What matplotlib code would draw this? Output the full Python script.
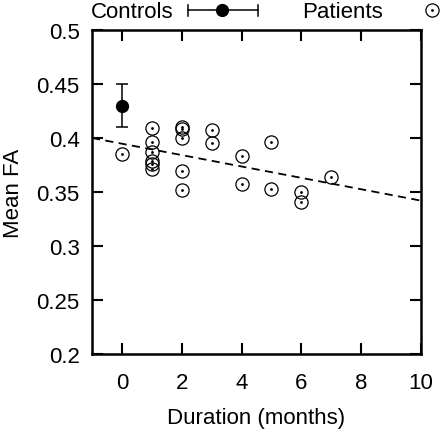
import numpy as np
import matplotlib
matplotlib.use('Agg')
import matplotlib.pyplot as plt
from matplotlib.lines import Line2D

plt.rcParams['font.family'] = ['Liberation Sans', 'DejaVu Sans']

# controls: mean and error
ctrl_x = [0]
ctrl_y = [0.43]
ctrl_err = [0.02]

# patients: duration (months) and mean FA
pat_x = [0, 1, 1, 1, 1, 1, 1, 2, 2, 2, 2, 2, 3, 3, 4, 4, 5, 5, 6, 6, 7]
pat_y = [0.385, 0.409, 0.396, 0.387, 0.379, 0.376, 0.371,
         0.410, 0.408, 0.400, 0.369, 0.352,
         0.407, 0.395, 0.383, 0.357, 0.396, 0.353, 0.350, 0.341, 0.364]

# regression line end points
fit_x = [-1, 10]
fit_y = [0.400, 0.342]

W, H = 440, 431
fig = plt.figure(figsize=(W / 100, H / 100), dpi=100)
ax = fig.add_axes([92 / W, 1 - 355 / H, (421 - 92) / W, (355 - 31) / H])

ax.plot(fit_x, fit_y, color='black', lw=1.3, ls=(0, (4.5, 3)))
ax.errorbar(ctrl_x, ctrl_y, yerr=ctrl_err, fmt='o', color='black', ms=8.5,
            capsize=4.3, elinewidth=1.1, capthick=1.1)
ax.plot(pat_x, pat_y, 'o', mfc='none', mec='black', ms=9.5, mew=0.9)
ax.plot(pat_x, pat_y, '.', color='black', ms=2)

ax.set_xlim(-1, 10)
ax.set_ylim(0.2, 0.5)
ax.set_xticks([0, 2, 4, 6, 8, 10])
ax.set_yticks([0.2, 0.25, 0.3, 0.35, 0.4, 0.45, 0.5])
ax.set_yticklabels(['0.2', '0.25', '0.3', '0.35', '0.4', '0.45', '0.5'])
ax.tick_params(direction='in', length=8, width=1.5, labelsize=16,
               top=True, right=True, pad=9)
ax.tick_params(axis='x', pad=13)
for s in ax.spines.values():
    s.set_linewidth(1.8)

ax.set_xlabel('Duration (months)', fontsize=16, labelpad=10)
ax.set_ylabel('Mean FA', fontsize=16, labelpad=9)

# key drawn above the plot, gnuplot style
ky = 1 - 11 / H
kb = 1 - 17.5 / H
fig.text(173 / W, kb, 'Controls', fontsize=16, ha='right', va='baseline')
fig.add_artist(Line2D([188 / W, 258 / W], [ky, ky], color='black', lw=1.1))
for cx in (188, 258):
    fig.add_artist(Line2D([cx / W, cx / W], [ky - 5.5 / H, ky + 5.5 / H],
                          color='black', lw=1.1))
fig.add_artist(Line2D([222 / W], [ky], marker='o', color='black', ms=8.5))
fig.text(383 / W, kb, 'Patients', fontsize=16, ha='right', va='baseline')
fig.add_artist(Line2D([432 / W], [ky], marker='o', mfc='none', mec='black',
                      ms=9.5, mew=0.9))
fig.add_artist(Line2D([432 / W], [ky], marker='.', color='black', ms=2))

fig.savefig('out.png', dpi=100)
